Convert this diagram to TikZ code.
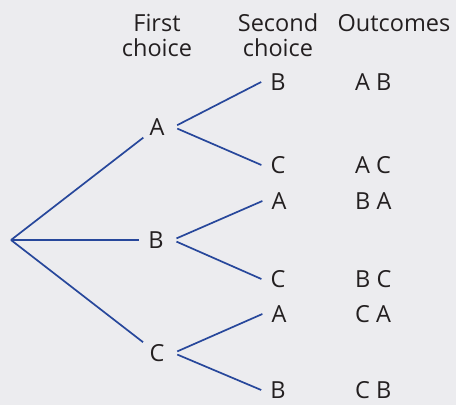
\documentclass[tikz,border=0pt]{standalone}
\usepackage{fontspec}
\setmainfont{Open Sans}
\usetikzlibrary{positioning}
\definecolor{branchblue}{HTML}{27479B}
\definecolor{labelgray}{HTML}{231F20}
\definecolor{pagegray}{HTML}{ECECEF}

\begin{document}
\begin{tikzpicture}[
  x=1pt,y=-1pt,
  lbl/.style={font=\fontsize{23.5}{25}\selectfont,text=labelgray,inner xsep=9pt,inner ysep=2pt},
  hdr/.style={font=\fontsize{23.5}{25}\selectfont,text=labelgray,align=center,inner sep=0pt},
  outc/.style={font=\fontsize{23.5}{25}\selectfont,text=labelgray,anchor=west,inner sep=0pt},
  br/.style={draw=branchblue,line width=1.7pt}
]
\useasboundingbox (0,0) rectangle (456,405);
\fill[pagegray] (0,0) rectangle (456,405);

% column headings
\node[hdr] (hfirst)  at (157,35) {First\\choice};
\node[hdr] (hsecond) at (278,35) {Second\\choice};
\node[hdr] (hout)    at (394,23) {Outcomes};

% first choice
\coordinate (root) at (11,240);
\node[lbl] (a) at (157,127) {A};
\node[lbl] (b) at (156,240) {B};
\node[lbl] (c) at (157,353) {C};

% second choice
\node[lbl] (ab) at (278,82)  {B};
\node[lbl] (ac) at (278,165) {C};
\node[lbl] (ba) at (279,201) {A};
\node[lbl] (bc) at (278,279) {C};
\node[lbl] (ca) at (279,314) {A};
\node[lbl] (cb) at (278,390) {B};

% outcomes
\node[outc] (oab) at (355,82)  {A B};
\node[outc] (oac) at (355,165) {A C};
\node[outc] (oba) at (355,201) {B A};
\node[outc] (obc) at (355,279) {B C};
\node[outc] (oca) at (355,314) {C A};
\node[outc] (ocb) at (355,390) {C B};

\foreach \n in {a,b,c}
  \draw[br] (root) -- (\n);
\foreach \p/\q in {a/ab,a/ac,b/ba,b/bc,c/ca,c/cb}
  \draw[br,shorten <=4pt] (\p.east) -- (\q.west);
\end{tikzpicture}
\end{document}
